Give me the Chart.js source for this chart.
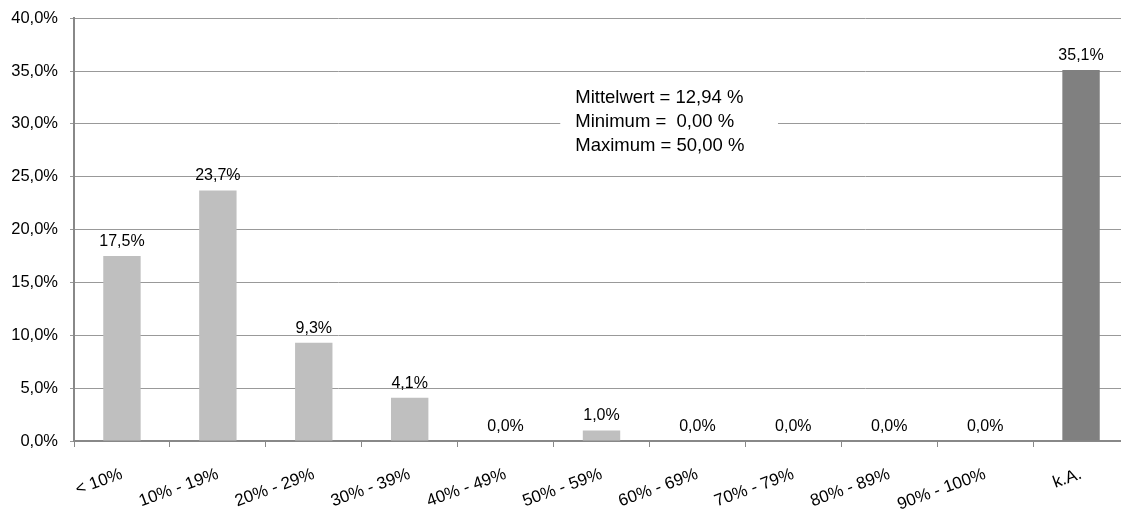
<!DOCTYPE html>
<html>
<head>
<meta charset="utf-8">
<script src="https://cdn.jsdelivr.net/npm/chart.js@4/dist/chart.umd.min.js"></script>
<style>
  html, body { margin: 0; padding: 0; background: #fff; overflow: hidden; }
  #wrap { width: 1129px; height: 509px; }
</style>
</head>
<body>
<div id="wrap"><canvas id="chart"></canvas></div>
<script>
const categories = ['< 10%', '10% - 19%', '20% - 29%', '30% - 39%', '40% - 49%', '50% - 59%',
  '60% - 69%', '70% - 79%', '80% - 89%', '90% - 100%', 'k.A.'];
const shares = [17.5, 23.7, 9.3, 4.1, 0.0, 1.0, 0.0, 0.0, 0.0, 0.0, 35.1];
const barColors = ['#bfbfbf', '#bfbfbf', '#bfbfbf', '#bfbfbf', '#bfbfbf', '#bfbfbf',
  '#bfbfbf', '#bfbfbf', '#bfbfbf', '#bfbfbf', '#808080'];
const statsLines = ['Mittelwert = 12,94 %', 'Minimum =  0,00 %', 'Maximum = 50,00 %'];

const font = 'Liberation Sans, Arial, sans-serif';

function pct(v) {
  return v.toFixed(1).replace('.', ',') + '%';
}

// value labels above each bar
const valueLabels = {
  id: 'valueLabels',
  afterDatasetsDraw(chart) {
    const ctx = chart.ctx;
    const meta = chart.getDatasetMeta(0);
    ctx.save();
    ctx.font = '16px ' + font;
    ctx.fillStyle = '#000';
    ctx.textAlign = 'center';
    ctx.textBaseline = 'alphabetic';
    meta.data.forEach((bar, i) => {
      ctx.fillText(pct(shares[i]), bar.x, bar.y - 10);
    });
    ctx.restore();
  }
};

// white box with the summary statistics, sitting on the 30% gridline
const statsBox = {
  id: 'statsBox',
  afterDraw(chart) {
    const ctx = chart.ctx;
    const x = chart.scales.x;
    const y = chart.scales.y;
    const left = x.getPixelForValue(4.57);
    const right = x.getPixelForValue(6.84);
    const mid = y.getPixelForValue(30) - 2;
    const lineH = 24;
    ctx.save();
    ctx.fillStyle = '#fff';
    ctx.fillRect(left, mid - 38, right - left, 76);
    ctx.font = '18.5px ' + font;
    ctx.fillStyle = '#000';
    ctx.textAlign = 'left';
    ctx.textBaseline = 'middle';
    statsLines.forEach((t, i) => {
      ctx.fillText(t, left + 15, mid + (i - 1) * lineH);
    });
    ctx.restore();
  }
};

new Chart(document.getElementById('chart'), {
  type: 'bar',
  data: {
    labels: categories,
    datasets: [{
      data: shares,
      backgroundColor: barColors,
      barPercentage: 0.39,
      categoryPercentage: 1.0
    }]
  },
  options: {
    responsive: true,
    maintainAspectRatio: false,
    animation: false,
    layout: { padding: { top: 4, right: 0, left: 0, bottom: 0 } },
    plugins: {
      legend: { display: false },
      tooltip: { enabled: false }
    },
    scales: {
      x: {
        grid: { offset: true, drawOnChartArea: false, drawTicks: true, tickLength: 6, color: '#888' },
        border: { color: '#888', width: 2 },
        ticks: {
          color: '#000',
          font: { family: font, size: 17 },
          minRotation: 20,
          maxRotation: 20,
          padding: 17
        },
        afterFit(scale) { scale.height = 68; }
      },
      y: {
        min: 0,
        max: 40,
        ticks: {
          stepSize: 5,
          color: '#000',
          font: { family: font, size: 16.5, lineHeight: 0.75 },
          padding: 12,
          callback: v => pct(v)
        },
        grid: { color: '#999', tickLength: 4 },
        border: { color: '#888', width: 2 },
        afterFit(scale) { scale.width = 74; }
      }
    }
  },
  plugins: [valueLabels, statsBox]
});
</script>
</body>
</html>
